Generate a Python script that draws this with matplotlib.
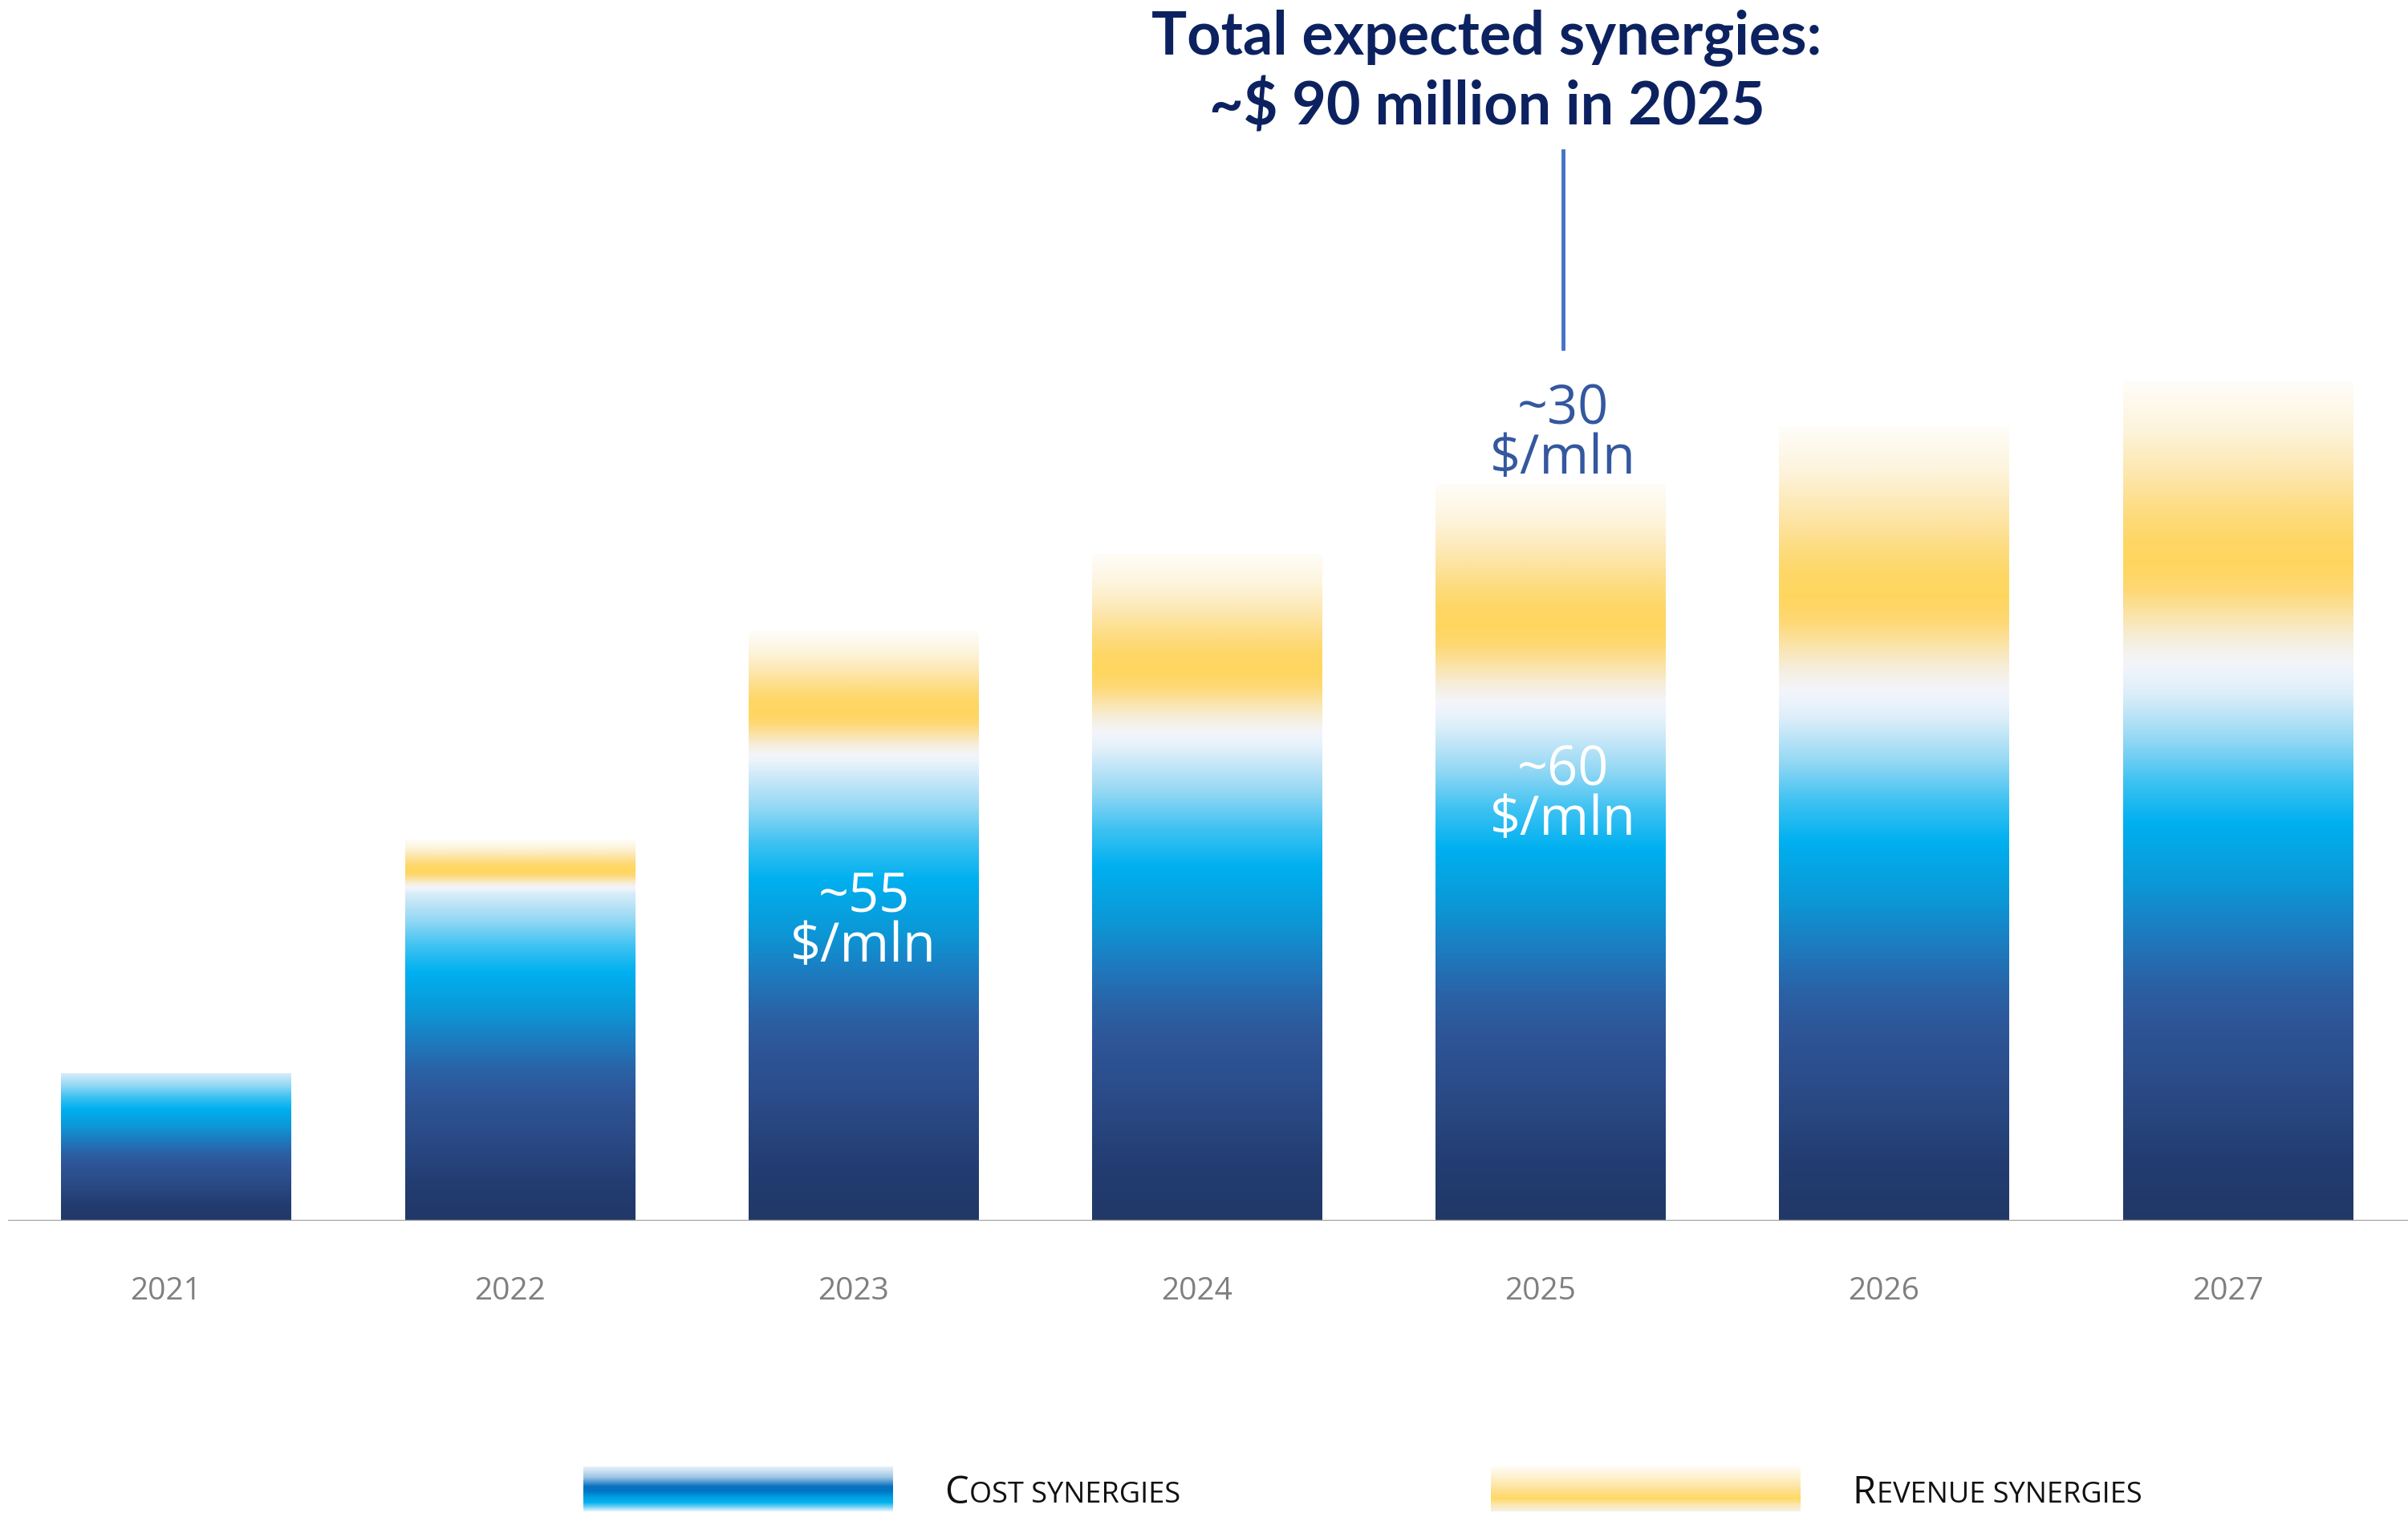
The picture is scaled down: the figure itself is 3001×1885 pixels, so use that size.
import numpy as np
import matplotlib
matplotlib.use("Agg")
from matplotlib import pyplot as plt
from matplotlib.colors import LinearSegmentedColormap

# synergies by year, $ mln
years = ["2021", "2022", "2023", "2024", "2025", "2026", "2027"]
cost = [18, 40, 55, 57, 60, 61, 64]
revenue = [0, 6.5, 17, 24.5, 30, 36, 38.5]

cost_cmap = LinearSegmentedColormap.from_list("cost", [
    (0.00, "#213867"), (0.12, "#233d72"), (0.25, "#2a4a86"),
    (0.38, "#2e5597"), (0.46, "#2a62a6"), (0.54, "#1f78bd"),
    (0.64, "#0c97d6"), (0.76, "#00b0f0"), (0.84, "#3ec2f2"),
    (0.92, "#94d8f4"), (1.00, "#d6ecf9")])
rev_cmap = LinearSegmentedColormap.from_list("revenue", [
    (0.00, "#d9edf9"), (0.06, "#eaf3fb"), (0.11, "#f4f5fa"),
    (0.18, "#f6eedc"), (0.26, "#fbe3a8"), (0.34, "#fed873"),
    (0.42, "#ffd65f"), (0.50, "#fed766"), (0.60, "#fddd85"),
    (0.72, "#fde8b2"), (0.85, "#fdf4dc"), (1.00, "#fffdf9")])
cost_key = LinearSegmentedColormap.from_list("cost_key", [
    (0.00, "#f0f5fb"), (0.25, "#9ec6e6"), (0.45, "#0a72c0"),
    (0.55, "#0074c2"), (0.70, "#00a0e4"), (0.80, "#00b0f0"),
    (0.90, "#6fd0f5"), (1.00, "#e9f6fd")])
rev_key = LinearSegmentedColormap.from_list("rev_key", [
    (0.00, "#fffdf8"), (0.30, "#fdefc5"), (0.55, "#fedf8c"),
    (0.72, "#ffd966"), (0.85, "#fbe7ad"), (1.00, "#f5f1e6")])

grad = np.linspace(0, 1, 256).reshape(-1, 1)
W, H = 3001, 1885
fig = plt.figure(figsize=(W / 100, H / 100), dpi=100, facecolor="w")
ax = fig.add_axes([10 / W, 364 / H, 2991 / W, 1336 / H])

width = 0.67
for i, (c, r) in enumerate(zip(cost, revenue)):
    x0, x1 = i - width / 2, i + width / 2
    ax.imshow(grad, cmap=cost_cmap, extent=(x0, x1, 0, c), origin="lower",
              aspect="auto", interpolation="bicubic")
    if r > 0:
        ax.imshow(grad, cmap=rev_cmap, extent=(x0, x1, c, c + r),
                  origin="lower", aspect="auto", interpolation="bicubic")

ax.set_xlim(-0.49, 6.495)
ax.set_ylim(0, 131)
for s in ax.spines.values():
    s.set_visible(False)
ax.set_xticks([])
ax.set_yticks([])
ax.axhline(0, color="#a6a6a6", lw=2.5, zorder=5)

for i, yr in enumerate(years):
    ax.text(i - 0.03, -9.6, yr, ha="center", va="baseline", fontsize=28,
            family="Open Sans", color="#7f7f7f", clip_on=False)

# value labels, two lines each (y is the baseline of the lower line)
lab = dict(ha="center", va="baseline", fontsize=48, family="Open Sans",
           linespacing=0.88, multialignment="center")
ax.text(2, 31.7, "~55\n$/mln", color="w", **lab)
ax.text(4.035, 47.2, "~60\n$/mln", color="w", **lab)
ax.text(4.035, 91.3, "~30\n$/mln", color="#34589f", **lab)

ax.plot([4.035, 4.035], [106.6, 130.7], color="#4472c4", lw=3.5,
        clip_on=False)

title = dict(ha="center", va="baseline", fontsize=53, fontweight="bold",
             family="Lato", color="#0c2260")
fig.text(1853 / W, 1 - 68 / H, "Total expected synergies:", **title)
fig.text(1853 / W, 1 - 156 / H, "~$ 90 million in 2025", **title)

# legend
for left, cm in [(727, cost_key), (1858, rev_key)]:
    kax = fig.add_axes([left / W, 2 / H, 386 / W, 56 / H])
    kax.imshow(grad, cmap=cm, aspect="auto", origin="upper",
               interpolation="bicubic")
    kax.axis("off")


def small_caps(x, first, rest):
    t = fig.text(x / W, 12 / H, first, fontsize=34, family="Open Sans",
                 color="#111111", va="baseline")
    ax.annotate(rest, xy=(1, 0), xycoords=t, xytext=(1, 2),
                textcoords="offset points", va="bottom", fontsize=26,
                family="Open Sans", color="#111111", annotation_clip=False)


small_caps(1177, "C", "OST SYNERGIES")
small_caps(2308, "R", "EVENUE SYNERGIES")

fig.savefig("out.png", dpi=100, facecolor="w")
